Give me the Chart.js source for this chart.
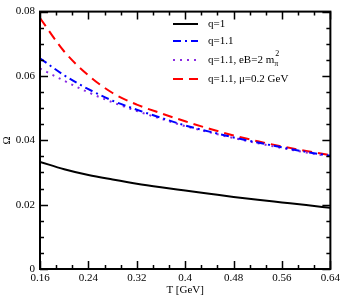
<!DOCTYPE html>
<html>
<head>
<meta charset="utf-8">
<script src="https://cdn.jsdelivr.net/npm/chart.js@4"></script>
<style>
html,body{margin:0;padding:0;background:#fff;}
#wrap{width:343px;height:299px;position:relative;}
</style>
</head>
<body>
<div id="wrap"><canvas id="c" width="343" height="299"></canvas></div>
<script>
const temps = [0.16, 0.20, 0.24, 0.28, 0.32, 0.36, 0.40, 0.44, 0.48, 0.52, 0.56, 0.60, 0.64];
const omegaQ1 = [0.0333, 0.0310, 0.0292, 0.0278, 0.0265, 0.0254, 0.0244, 0.0234, 0.0224, 0.0215, 0.0207, 0.0199, 0.0190];
const omegaQ11 = [0.0655, 0.0602, 0.0559, 0.0523, 0.0495, 0.0470, 0.0446, 0.0427, 0.0409, 0.0393, 0.0378, 0.0364, 0.0352];
const omegaQ11eB = [0.0623, 0.0585, 0.0549, 0.0518, 0.0491, 0.0467, 0.0444, 0.0425, 0.0407, 0.0391, 0.0376, 0.0362, 0.0350];
const omegaQ11mu = [0.0780, 0.0676, 0.0602, 0.0547, 0.0511, 0.0484, 0.0459, 0.0436, 0.0415, 0.0397, 0.0381, 0.0367, 0.0354];
const xTicks = [0.16, 0.24, 0.32, 0.4, 0.48, 0.56, 0.64];
const yTicks = [0, 0.02, 0.04, 0.06, 0.08];
const seriesLabels = ['q=1', 'q=1.1', 'q=1.1, eB=2 m', 'q=1.1, \u03bc=0.2 GeV'];

const pts = arr => temps.map((t, i) => ({x: t, y: arr[i]}));
const serif = "'Liberation Serif', 'DejaVu Serif', serif";

const frame = {
  id: 'frame',
  afterDraw(chart) {
    const ctx = chart.ctx, a = chart.chartArea;
    const xs = chart.scales.x, ys = chart.scales.y;
    ctx.save();
    ctx.strokeStyle = '#000';
    ctx.lineWidth = 1.5;
    ctx.setLineDash([]);
    for (let i = 0; i < xTicks.length; i++) {
      const v = xTicks[i];
      const px = Math.round(xs.getPixelForValue(v)) + 0.5;
      ctx.beginPath();
      ctx.moveTo(px, a.bottom); ctx.lineTo(px, a.bottom - 8);
      ctx.moveTo(px, a.top); ctx.lineTo(px, a.top + 8);
      ctx.stroke();
      if (i < xTicks.length - 1) {
        const step = (xTicks[i+1] - v) / 3;
        for (let k = 1; k < 3; k++) {
          const mp = Math.round(xs.getPixelForValue(v + k*step)) + 0.5;
          ctx.beginPath();
          ctx.moveTo(mp, a.bottom); ctx.lineTo(mp, a.bottom - 4);
          ctx.moveTo(mp, a.top); ctx.lineTo(mp, a.top + 4);
          ctx.stroke();
        }
      }
    }
    for (let i = 0; i < yTicks.length; i++) {
      const v = yTicks[i];
      const py = Math.round(ys.getPixelForValue(v)) + 0.5;
      ctx.beginPath();
      ctx.moveTo(a.left, py); ctx.lineTo(a.left + 8, py);
      ctx.moveTo(a.right, py); ctx.lineTo(a.right - 8, py);
      ctx.stroke();
      if (i < yTicks.length - 1) {
        const step = (yTicks[i+1] - v) / 4;
        for (let k = 1; k < 4; k++) {
          const mp = Math.round(ys.getPixelForValue(v + k*step)) + 0.5;
          ctx.beginPath();
          ctx.moveTo(a.left, mp); ctx.lineTo(a.left + 4, mp);
          ctx.moveTo(a.right, mp); ctx.lineTo(a.right - 4, mp);
          ctx.stroke();
        }
      }
    }
    ctx.lineWidth = 2;
    ctx.strokeRect(a.left, a.top, a.right - a.left, a.bottom - a.top);

    const lx0 = 173, lx1 = 198, tx = 208;
    const rows = [24, 41, 60, 79];
    chart.data.datasets.forEach((ds, i) => {
      ctx.strokeStyle = ds.borderColor;
      ctx.lineWidth = 2;
      ctx.setLineDash(ds.borderDash || []);
      ctx.beginPath();
      ctx.moveTo(lx0, rows[i]); ctx.lineTo(lx1, rows[i]);
      ctx.stroke();
    });
    ctx.setLineDash([]);
    ctx.fillStyle = '#000';
    ctx.font = '11px ' + serif;
    ctx.textBaseline = 'middle';
    ctx.textAlign = 'left';
    seriesLabels.forEach((s, i) => {
      ctx.fillText(s, tx, rows[i]);
      if (i === 2) {
        const w = ctx.measureText(s).width;
        ctx.font = '8px ' + serif;
        ctx.fillText('\u03c0', tx + w, rows[i] + 4);
        ctx.fillText('2', tx + w + 1, rows[i] - 6);
        ctx.font = '11px ' + serif;
      }
    });
    ctx.restore();
  }
};

new Chart(document.getElementById('c'), {
  type: 'line',
  data: {
    datasets: [
      {label: seriesLabels[0], data: pts(omegaQ1), borderColor: '#000000', borderWidth: 2, pointRadius: 0, cubicInterpolationMode: 'monotone', fill: false},
      {label: seriesLabels[1], data: pts(omegaQ11), borderColor: '#0000ff', borderWidth: 2, borderDash: [8, 4, 2, 4], pointRadius: 0, cubicInterpolationMode: 'monotone', fill: false},
      {label: seriesLabels[2], data: pts(omegaQ11eB), borderColor: '#8a2be2', borderWidth: 2, borderDash: [2, 5], pointRadius: 0, cubicInterpolationMode: 'monotone', fill: false},
      {label: seriesLabels[3], data: pts(omegaQ11mu), borderColor: '#ff0000', borderWidth: 2, borderDash: [10, 6], pointRadius: 0, cubicInterpolationMode: 'monotone', fill: false}
    ]
  },
  options: {
    responsive: false,
    animation: false,
    layout: {padding: {top: 5, right: 12, left: 0, bottom: 0}},
    plugins: {legend: {display: false}, tooltip: {enabled: false}},
    scales: {
      x: {
        type: 'linear', min: 0.16, max: 0.64,
        afterBuildTicks: s => { s.ticks = xTicks.map(v => ({value: v})); },
        afterFit: s => { s.height = 30; },
        grid: {display: false, drawTicks: false},
        border: {display: false},
        ticks: {color: '#000', font: {family: serif, size: 11}, padding: 3, maxRotation: 0,
          callback: v => String(+v.toFixed(2))},
        title: {display: true, text: 'T [GeV]', color: '#000', font: {family: serif, size: 11}, padding: {top: 0, bottom: 2}}
      },
      y: {
        min: 0, max: 0.08,
        afterBuildTicks: s => { s.ticks = yTicks.map(v => ({value: v})); },
        afterFit: s => { s.width = 40; },
        grid: {display: false, drawTicks: false},
        border: {display: false},
        ticks: {color: '#000', font: {family: serif, size: 11}, padding: 5,
          callback: v => String(+v.toFixed(2))},
        title: {display: true, text: '\u03a9', color: '#000', font: {family: serif, size: 11}, padding: {top: 1, bottom: 0}}
      }
    }
  },
  plugins: [frame]
});
</script>
</body>
</html>
